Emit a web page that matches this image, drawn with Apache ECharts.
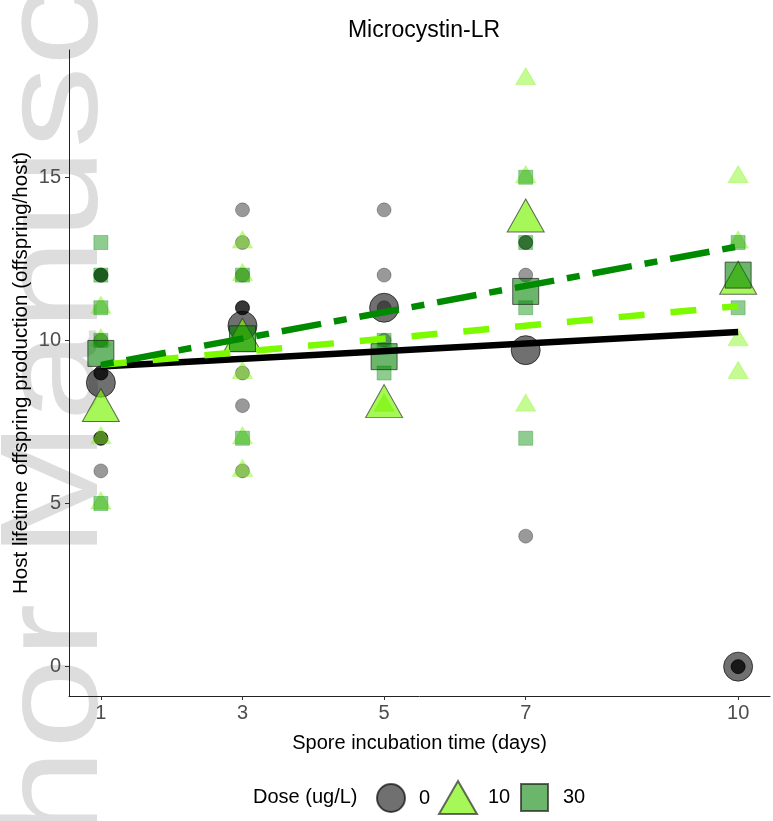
<!DOCTYPE html>
<html>
<head>
<meta charset="utf-8">
<script src="https://cdn.jsdelivr.net/npm/echarts@6/dist/echarts.min.js"></script>
<style>
html, body { margin: 0; padding: 0; background: #ffffff; }
#chart { width: 773px; height: 821px; }
</style>
</head>
<body>
<div id="chart"></div>
<script>
// ---- data ----
var xTicks = [1, 3, 5, 7, 10];
var yTicks = [0, 5, 10, 15];

// raw observations [day, offspring]
var raw0 = [[1,12],[1,12],[1,12],[1,10],[1,9],[1,9],[1,9],[1,7],[1,7],[1,7],[1,6],
            [3,14],[3,13],[3,12],[3,11],[3,11],[3,11],[3,9],[3,8],[3,6],
            [5,14],[5,12],[5,11],[5,10],
            [7,13],[7,13],[7,12],[7,4],
            [10,0],[10,0],[10,0]];
var raw10 = [[1,11],[1,10],[1,7],[1,5],
             [3,13],[3,12],[3,9],[3,7],[3,6],
             [5,8],[5,8],
             [7,18],[7,15],[7,8],
             [10,15],[10,13],[10,10],[10,9]];
var raw30 = [[1,13],[1,12],[1,11],[1,10],[1,5],
             [3,12],[3,7],
             [5,10],[5,9],
             [7,15],[7,13],[7,11],[7,7],
             [10,13],[10,11]];

// group means
var mean0  = [8.7, 10.45, 11.0, 9.7, 0.0];
var mean10 = [7.85, 10.0, 7.97, 13.66, 11.75];
var mean30 = [9.6, 10.05, 9.5, 11.5, 12.0];

// fitted regression lines (day 1 to day 10)
var fitDays = [1, 10];
var fit0  = [9.2, 10.26];
var fit10 = [9.25, 11.05];
var fit30 = [9.25, 12.88];

var doseNames = ['0', '10', '30'];

function pairs(xs, ys) { return xs.map(function (x, i) { return [x, ys[i]]; }); }

var FONT = 'Liberation Sans, Arial, sans-serif';
var chart = echarts.init(document.getElementById('chart'), null, { renderer: 'canvas' });

var legendText = function (padLeft) {
  return { fontFamily: FONT, fontSize: 20, color: '#000000', padding: [0, 0, 0, padLeft] };
};

var option = {
  animation: false,
  backgroundColor: '#ffffff',
  textStyle: { fontFamily: FONT },
  title: {
    text: 'Microcystin-LR',
    left: 419, top: 14, textAlign: 'center',
    textStyle: { fontFamily: FONT, fontSize: 23, fontWeight: 'normal', color: '#000000' }
  },
  graphic: [
    {
      type: 'text', z: -100, silent: true,
      x: 58, y: 1086, rotation: Math.PI / 2, scaleX: 1.17, scaleY: 1,
      style: { text: 'Author Manuscript', fontFamily: FONT, fontSize: 140,
               fill: '#dddddd', textAlign: 'left', textVerticalAlign: 'middle' }
    },
    {
      type: 'text', silent: true, left: 253, top: 787,
      style: { text: 'Dose (ug/L)', fontFamily: FONT, fontSize: 20, fill: '#000000' }
    }
  ],
  legend: [
    { data: ['0'], left: 371, top: 778, itemWidth: 28, itemHeight: 28, selectedMode: false,
      textStyle: legendText(9) },
    { data: ['10'], left: 433, top: 775, itemWidth: 38, itemHeight: 33, selectedMode: false,
      textStyle: legendText(6) },
    { data: ['30'], left: 515, top: 778, itemWidth: 27, itemHeight: 27, selectedMode: false,
      textStyle: legendText(10) }
  ],
  grid: { left: 69, right: 3, top: 50, bottom: 125, containLabel: false },
  xAxis: {
    type: 'value', min: 0.55, max: 10.45,
    name: 'Spore incubation time (days)', nameLocation: 'middle', nameGap: 37,
    nameTextStyle: { fontFamily: FONT, fontSize: 20, color: '#000000' },
    axisLine: { onZero: false, lineStyle: { color: '#222222', width: 1 } },
    axisTick: { customValues: xTicks, length: 4, lineStyle: { color: '#333333' } },
    axisLabel: { customValues: xTicks, margin: 7, fontFamily: FONT, fontSize: 20, color: '#4d4d4d' },
    splitLine: { show: false }
  },
  yAxis: {
    type: 'value', min: -0.9, max: 18.9,
    name: 'Host lifetime offspring production (offspring/host)', nameLocation: 'middle', nameGap: 37,
    nameRotate: 90, nameMoveOverlap: false,
    nameTextStyle: { fontFamily: FONT, fontSize: 20.6, color: '#000000' },
    axisLine: { onZero: false, lineStyle: { color: '#222222', width: 1 } },
    axisTick: { customValues: yTicks, length: 4, lineStyle: { color: '#333333' } },
    axisLabel: { customValues: yTicks, margin: 8, fontFamily: FONT, fontSize: 20, color: '#4d4d4d' },
    splitLine: { show: false }
  },
  series: [
    { name: 'obs 0', type: 'scatter', data: raw0, symbol: 'circle', symbolSize: 14,
      itemStyle: { color: 'rgba(0,0,0,0.5)', borderColor: 'rgba(0,0,0,0.35)', borderWidth: 1 } },
    { name: 'obs 10', type: 'scatter', data: raw10, symbol: 'triangle', symbolSize: [20, 17],
      symbolOffset: [0, -3],
      itemStyle: { color: 'rgba(124,245,10,0.55)', borderColor: 'rgba(124,245,10,0.4)', borderWidth: 1 } },
    { name: 'obs 30', type: 'scatter', data: raw30, symbol: 'rect', symbolSize: 14,
      itemStyle: { color: 'rgba(0,140,0,0.55)', borderColor: 'rgba(0,140,0,0.4)', borderWidth: 1 } },

    { name: 'fit 0', type: 'line', data: pairs(fitDays, fit0), symbol: 'none', silent: true,
      lineStyle: { color: '#000000', width: 6.5, type: 'solid', cap: 'butt' } },
    { name: 'fit 10', type: 'line', data: pairs(fitDays, fit10), symbol: 'none', silent: true,
      lineStyle: { color: '#7CFA00', width: 6.5, type: [26, 26], cap: 'butt' } },
    { name: 'fit 30', type: 'line', data: pairs(fitDays, fit30), symbol: 'none', silent: true,
      lineStyle: { color: '#008a00', width: 6.5, type: [13, 13, 40, 13], cap: 'butt' } },

    { name: doseNames[0], type: 'scatter', data: pairs(xTicks, mean0), symbol: 'circle', symbolSize: 29,
      itemStyle: { color: 'rgba(0,0,0,0.7)', borderColor: 'rgba(0,0,0,0.8)', borderWidth: 1 } },
    { name: doseNames[1], type: 'scatter', data: pairs(xTicks, mean10), symbol: 'triangle', symbolSize: [37, 33],
      symbolOffset: [0, -5.5],
      itemStyle: { color: 'rgba(124,245,10,0.85)', borderColor: 'rgba(40,40,40,0.85)', borderWidth: 1 } },
    { name: doseNames[2], type: 'scatter', data: pairs(xTicks, mean30), symbol: 'rect', symbolSize: 26,
      itemStyle: { color: 'rgba(0,128,0,0.72)', borderColor: 'rgba(30,30,30,0.85)', borderWidth: 1 } }
  ]
};
chart.setOption(option);
</script>
</body>
</html>
